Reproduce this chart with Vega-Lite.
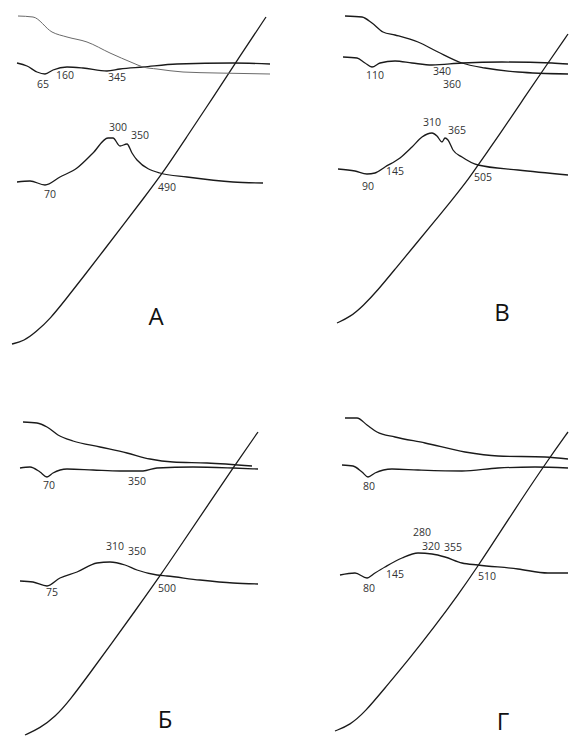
{
  "$schema": "https://vega.github.io/schema/vega-lite/v6.json",
  "autosize": {"type": "fit", "contains": "padding"},
  "width": 569,
  "height": 736,
  "padding": 0,
  "background": "white",
  "config": {"view": {"stroke": null}, "axis": {"disable": true}},
  "datasets": {
    "curves": [
      {"line": "A1", "i": 1, "x": 18, "y": 16}, {"line": "A1", "i": 2, "x": 33, "y": 17}, {"line": "A1", "i": 3, "x": 52, "y": 32}, {"line": "A1", "i": 4, "x": 67, "y": 37}, {"line": "A1", "i": 5, "x": 87, "y": 42}, {"line": "A1", "i": 6, "x": 110, "y": 53}, {"line": "A1", "i": 7, "x": 133, "y": 63}, {"line": "A1", "i": 8, "x": 143, "y": 67}, {"line": "A1", "i": 9, "x": 157, "y": 69}, {"line": "A1", "i": 10, "x": 183, "y": 72}, {"line": "A1", "i": 11, "x": 217, "y": 73}, {"line": "A1", "i": 12, "x": 270, "y": 74},

      {"line": "A2", "i": 1, "x": 17, "y": 63}, {"line": "A2", "i": 2, "x": 27, "y": 66}, {"line": "A2", "i": 3, "x": 37, "y": 72}, {"line": "A2", "i": 4, "x": 45, "y": 74}, {"line": "A2", "i": 5, "x": 53, "y": 70}, {"line": "A2", "i": 6, "x": 67, "y": 67}, {"line": "A2", "i": 7, "x": 83, "y": 68}, {"line": "A2", "i": 8, "x": 107, "y": 71}, {"line": "A2", "i": 9, "x": 120, "y": 69}, {"line": "A2", "i": 10, "x": 143, "y": 67}, {"line": "A2", "i": 11, "x": 177, "y": 64}, {"line": "A2", "i": 12, "x": 233, "y": 63}, {"line": "A2", "i": 13, "x": 270, "y": 64},

      {"line": "A3", "i": 1, "x": 17, "y": 182}, {"line": "A3", "i": 2, "x": 30, "y": 181}, {"line": "A3", "i": 3, "x": 45, "y": 185}, {"line": "A3", "i": 4, "x": 60, "y": 177}, {"line": "A3", "i": 5, "x": 77, "y": 168}, {"line": "A3", "i": 6, "x": 93, "y": 153}, {"line": "A3", "i": 7, "x": 108, "y": 138}, {"line": "A3", "i": 8, "x": 113, "y": 138}, {"line": "A3", "i": 9, "x": 120, "y": 146}, {"line": "A3", "i": 10, "x": 127, "y": 144}, {"line": "A3", "i": 11, "x": 132, "y": 153}, {"line": "A3", "i": 12, "x": 137, "y": 160}, {"line": "A3", "i": 13, "x": 160, "y": 173}, {"line": "A3", "i": 14, "x": 187, "y": 177}, {"line": "A3", "i": 15, "x": 233, "y": 182}, {"line": "A3", "i": 16, "x": 263, "y": 183},

      {"line": "A4", "i": 1, "x": 12, "y": 344}, {"line": "A4", "i": 2, "x": 24, "y": 341}, {"line": "A4", "i": 3, "x": 36, "y": 332}, {"line": "A4", "i": 4, "x": 50, "y": 319}, {"line": "A4", "i": 5, "x": 66, "y": 299}, {"line": "A4", "i": 6, "x": 84, "y": 276}, {"line": "A4", "i": 7, "x": 104, "y": 250}, {"line": "A4", "i": 8, "x": 124, "y": 224}, {"line": "A4", "i": 9, "x": 143, "y": 199}, {"line": "A4", "i": 10, "x": 162, "y": 174}, {"line": "A4", "i": 11, "x": 186, "y": 138}, {"line": "A4", "i": 12, "x": 214, "y": 96}, {"line": "A4", "i": 13, "x": 240, "y": 56}, {"line": "A4", "i": 14, "x": 266, "y": 17},

      {"line": "B1", "i": 1, "x": 345, "y": 16}, {"line": "B1", "i": 2, "x": 362, "y": 17}, {"line": "B1", "i": 3, "x": 372, "y": 23}, {"line": "B1", "i": 4, "x": 383, "y": 32}, {"line": "B1", "i": 5, "x": 395, "y": 35}, {"line": "B1", "i": 6, "x": 418, "y": 42}, {"line": "B1", "i": 7, "x": 438, "y": 52}, {"line": "B1", "i": 8, "x": 462, "y": 63}, {"line": "B1", "i": 9, "x": 485, "y": 68}, {"line": "B1", "i": 10, "x": 518, "y": 72}, {"line": "B1", "i": 11, "x": 568, "y": 74},

      {"line": "B2", "i": 1, "x": 343, "y": 57}, {"line": "B2", "i": 2, "x": 357, "y": 58}, {"line": "B2", "i": 3, "x": 365, "y": 63}, {"line": "B2", "i": 4, "x": 372, "y": 67}, {"line": "B2", "i": 5, "x": 380, "y": 63}, {"line": "B2", "i": 6, "x": 395, "y": 61}, {"line": "B2", "i": 7, "x": 412, "y": 63}, {"line": "B2", "i": 8, "x": 432, "y": 65}, {"line": "B2", "i": 9, "x": 462, "y": 63}, {"line": "B2", "i": 10, "x": 502, "y": 62}, {"line": "B2", "i": 11, "x": 552, "y": 63}, {"line": "B2", "i": 12, "x": 568, "y": 64},

      {"line": "B3", "i": 1, "x": 338, "y": 169}, {"line": "B3", "i": 2, "x": 355, "y": 171}, {"line": "B3", "i": 3, "x": 367, "y": 174}, {"line": "B3", "i": 4, "x": 375, "y": 173}, {"line": "B3", "i": 5, "x": 385, "y": 167}, {"line": "B3", "i": 6, "x": 400, "y": 158}, {"line": "B3", "i": 7, "x": 412, "y": 147}, {"line": "B3", "i": 8, "x": 422, "y": 137}, {"line": "B3", "i": 9, "x": 432, "y": 133}, {"line": "B3", "i": 10, "x": 437, "y": 136}, {"line": "B3", "i": 11, "x": 442, "y": 142}, {"line": "B3", "i": 12, "x": 445, "y": 138}, {"line": "B3", "i": 13, "x": 448, "y": 140}, {"line": "B3", "i": 14, "x": 453, "y": 150}, {"line": "B3", "i": 15, "x": 462, "y": 157}, {"line": "B3", "i": 16, "x": 478, "y": 165}, {"line": "B3", "i": 17, "x": 518, "y": 170}, {"line": "B3", "i": 18, "x": 568, "y": 175},

      {"line": "B4", "i": 1, "x": 337, "y": 323}, {"line": "B4", "i": 2, "x": 350, "y": 317}, {"line": "B4", "i": 3, "x": 363, "y": 306}, {"line": "B4", "i": 4, "x": 378, "y": 290}, {"line": "B4", "i": 5, "x": 396, "y": 268}, {"line": "B4", "i": 6, "x": 415, "y": 245}, {"line": "B4", "i": 7, "x": 434, "y": 222}, {"line": "B4", "i": 8, "x": 452, "y": 200}, {"line": "B4", "i": 9, "x": 470, "y": 177}, {"line": "B4", "i": 10, "x": 478, "y": 165}, {"line": "B4", "i": 11, "x": 500, "y": 134}, {"line": "B4", "i": 12, "x": 524, "y": 98}, {"line": "B4", "i": 13, "x": 548, "y": 63}, {"line": "B4", "i": 14, "x": 568, "y": 34},

      {"line": "C1", "i": 1, "x": 23, "y": 422}, {"line": "C1", "i": 2, "x": 37, "y": 423}, {"line": "C1", "i": 3, "x": 47, "y": 427}, {"line": "C1", "i": 4, "x": 58, "y": 435}, {"line": "C1", "i": 5, "x": 73, "y": 441}, {"line": "C1", "i": 6, "x": 100, "y": 447}, {"line": "C1", "i": 7, "x": 127, "y": 453}, {"line": "C1", "i": 8, "x": 150, "y": 459}, {"line": "C1", "i": 9, "x": 173, "y": 462}, {"line": "C1", "i": 10, "x": 207, "y": 463}, {"line": "C1", "i": 11, "x": 252, "y": 466},

      {"line": "C2", "i": 1, "x": 20, "y": 468}, {"line": "C2", "i": 2, "x": 30, "y": 467}, {"line": "C2", "i": 3, "x": 40, "y": 472}, {"line": "C2", "i": 4, "x": 47, "y": 477}, {"line": "C2", "i": 5, "x": 53, "y": 473}, {"line": "C2", "i": 6, "x": 67, "y": 469}, {"line": "C2", "i": 7, "x": 93, "y": 470}, {"line": "C2", "i": 8, "x": 120, "y": 471}, {"line": "C2", "i": 9, "x": 143, "y": 471}, {"line": "C2", "i": 10, "x": 157, "y": 468}, {"line": "C2", "i": 11, "x": 193, "y": 467}, {"line": "C2", "i": 12, "x": 233, "y": 468}, {"line": "C2", "i": 13, "x": 258, "y": 469},

      {"line": "C3", "i": 1, "x": 20, "y": 581}, {"line": "C3", "i": 2, "x": 33, "y": 582}, {"line": "C3", "i": 3, "x": 47, "y": 586}, {"line": "C3", "i": 4, "x": 60, "y": 578}, {"line": "C3", "i": 5, "x": 77, "y": 572}, {"line": "C3", "i": 6, "x": 97, "y": 563}, {"line": "C3", "i": 7, "x": 110, "y": 562}, {"line": "C3", "i": 8, "x": 125, "y": 565}, {"line": "C3", "i": 9, "x": 137, "y": 570}, {"line": "C3", "i": 10, "x": 157, "y": 575}, {"line": "C3", "i": 11, "x": 167, "y": 576}, {"line": "C3", "i": 12, "x": 200, "y": 580}, {"line": "C3", "i": 13, "x": 233, "y": 583}, {"line": "C3", "i": 14, "x": 258, "y": 584},

      {"line": "C4", "i": 1, "x": 25, "y": 735}, {"line": "C4", "i": 2, "x": 40, "y": 728}, {"line": "C4", "i": 3, "x": 55, "y": 717}, {"line": "C4", "i": 4, "x": 70, "y": 700}, {"line": "C4", "i": 5, "x": 90, "y": 673}, {"line": "C4", "i": 6, "x": 112, "y": 643}, {"line": "C4", "i": 7, "x": 135, "y": 611}, {"line": "C4", "i": 8, "x": 160, "y": 576}, {"line": "C4", "i": 9, "x": 183, "y": 542}, {"line": "C4", "i": 10, "x": 208, "y": 505}, {"line": "C4", "i": 11, "x": 233, "y": 468}, {"line": "C4", "i": 12, "x": 258, "y": 432},

      {"line": "D1", "i": 1, "x": 345, "y": 418}, {"line": "D1", "i": 2, "x": 357, "y": 418}, {"line": "D1", "i": 3, "x": 367, "y": 425}, {"line": "D1", "i": 4, "x": 377, "y": 432}, {"line": "D1", "i": 5, "x": 395, "y": 437}, {"line": "D1", "i": 6, "x": 425, "y": 443}, {"line": "D1", "i": 7, "x": 465, "y": 452}, {"line": "D1", "i": 8, "x": 498, "y": 456}, {"line": "D1", "i": 9, "x": 545, "y": 457}, {"line": "D1", "i": 10, "x": 568, "y": 459},

      {"line": "D2", "i": 1, "x": 342, "y": 465}, {"line": "D2", "i": 2, "x": 353, "y": 466}, {"line": "D2", "i": 3, "x": 362, "y": 472}, {"line": "D2", "i": 4, "x": 368, "y": 477}, {"line": "D2", "i": 5, "x": 375, "y": 473}, {"line": "D2", "i": 6, "x": 392, "y": 469}, {"line": "D2", "i": 7, "x": 418, "y": 470}, {"line": "D2", "i": 8, "x": 462, "y": 471}, {"line": "D2", "i": 9, "x": 498, "y": 468}, {"line": "D2", "i": 10, "x": 535, "y": 467}, {"line": "D2", "i": 11, "x": 568, "y": 468},

      {"line": "D3", "i": 1, "x": 340, "y": 575}, {"line": "D3", "i": 2, "x": 355, "y": 573}, {"line": "D3", "i": 3, "x": 367, "y": 578}, {"line": "D3", "i": 4, "x": 375, "y": 573}, {"line": "D3", "i": 5, "x": 385, "y": 567}, {"line": "D3", "i": 6, "x": 402, "y": 558}, {"line": "D3", "i": 7, "x": 418, "y": 553}, {"line": "D3", "i": 8, "x": 432, "y": 554}, {"line": "D3", "i": 9, "x": 445, "y": 557}, {"line": "D3", "i": 10, "x": 462, "y": 563}, {"line": "D3", "i": 11, "x": 478, "y": 565}, {"line": "D3", "i": 12, "x": 518, "y": 569}, {"line": "D3", "i": 13, "x": 548, "y": 573}, {"line": "D3", "i": 14, "x": 568, "y": 573},

      {"line": "D4", "i": 1, "x": 335, "y": 731}, {"line": "D4", "i": 2, "x": 350, "y": 725}, {"line": "D4", "i": 3, "x": 365, "y": 712}, {"line": "D4", "i": 4, "x": 385, "y": 688}, {"line": "D4", "i": 5, "x": 410, "y": 658}, {"line": "D4", "i": 6, "x": 435, "y": 626}, {"line": "D4", "i": 7, "x": 458, "y": 595}, {"line": "D4", "i": 8, "x": 478, "y": 566}, {"line": "D4", "i": 9, "x": 495, "y": 540}, {"line": "D4", "i": 10, "x": 521, "y": 500}, {"line": "D4", "i": 11, "x": 548, "y": 460}, {"line": "D4", "i": 12, "x": 568, "y": 432}
    ],
    "labels": [
      {"x": 43, "y": 85, "text": "65"}, {"x": 65, "y": 76, "text": "160"}, {"x": 117, "y": 78, "text": "345"},
      {"x": 118, "y": 128, "text": "300"}, {"x": 140, "y": 136, "text": "350"}, {"x": 50, "y": 195, "text": "70"}, {"x": 167, "y": 188, "text": "490"},
      {"x": 375, "y": 76, "text": "110"}, {"x": 442, "y": 72, "text": "340"}, {"x": 452, "y": 85, "text": "360"},
      {"x": 432, "y": 123, "text": "310"}, {"x": 457, "y": 131, "text": "365"}, {"x": 395, "y": 172, "text": "145"}, {"x": 368, "y": 187, "text": "90"}, {"x": 483, "y": 178, "text": "505"},
      {"x": 49, "y": 486, "text": "70"}, {"x": 137, "y": 482, "text": "350"},
      {"x": 115, "y": 547, "text": "310"}, {"x": 137, "y": 552, "text": "350"}, {"x": 52, "y": 593, "text": "75"}, {"x": 167, "y": 589, "text": "500"},
      {"x": 369, "y": 487, "text": "80"},
      {"x": 422, "y": 533, "text": "280"}, {"x": 431, "y": 547, "text": "320"}, {"x": 453, "y": 548, "text": "355"}, {"x": 395, "y": 575, "text": "145"}, {"x": 369, "y": 589, "text": "80"}, {"x": 487, "y": 577, "text": "510"}
    ],
    "titles": [
      {"x": 156, "y": 318, "text": "А"},
      {"x": 502, "y": 314, "text": "В"},
      {"x": 165, "y": 721, "text": "Б"},
      {"x": 503, "y": 723, "text": "Г"}
    ]
  },
  "encoding": {
    "x": {"field": "x", "type": "quantitative", "scale": {"domain": [0, 569], "nice": false, "zero": false}, "axis": null},
    "y": {"field": "y", "type": "quantitative", "scale": {"domain": [0, 736], "reverse": true, "nice": false, "zero": false}, "axis": null}
  },
  "layer": [
    {
      "data": {"name": "curves"},
      "transform": [{"filter": "datum.line !== 'A1' && !test(/4$/, datum.line)"}],
      "mark": {"type": "line", "interpolate": "monotone", "color": "#1a1a1a", "strokeWidth": 1.3, "clip": true},
      "encoding": {
        "detail": {"field": "line"},
        "order": {"field": "i"}
      }
    },
    {
      "data": {"name": "curves"},
      "transform": [{"filter": "test(/4$/, datum.line)"}],
      "mark": {"type": "line", "interpolate": "basis", "color": "#1a1a1a", "strokeWidth": 1.3, "clip": true},
      "encoding": {
        "detail": {"field": "line"},
        "order": {"field": "i"}
      }
    },
    {
      "data": {"name": "curves"},
      "transform": [{"filter": "datum.line === 'A1'"}],
      "mark": {"type": "line", "interpolate": "monotone", "color": "#6a6a6a", "strokeWidth": 1, "clip": true},
      "encoding": {
        "order": {"field": "i"}
      }
    },
    {
      "data": {"name": "labels"},
      "mark": {"type": "text", "font": "Open Sans", "fontSize": 10.5, "fill": "#333333", "align": "center", "baseline": "middle"},
      "encoding": {
        "text": {"field": "text"}
      }
    },
    {
      "data": {"name": "titles"},
      "mark": {"type": "text", "font": "Open Sans", "fontSize": 24, "fill": "#111111", "align": "center", "baseline": "middle"},
      "encoding": {
        "text": {"field": "text"}
      }
    }
  ]
}
